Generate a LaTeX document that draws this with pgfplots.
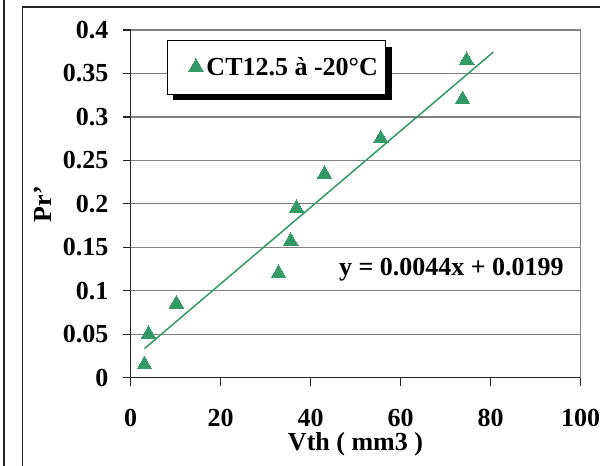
\documentclass[border=0pt]{standalone}
\usepackage{fontspec}
\setmainfont{Liberation Serif}
\usepackage{pgfplots}
\pgfplotsset{compat=1.18}
\usetikzlibrary{shadows}
\definecolor{seagreen}{RGB}{51,153,102}
\definecolor{gridgray}{RGB}{128,128,128}
\newcommand{\bigbf}{\bfseries\fontsize{26bp}{31bp}\selectfont}
\begin{document}
\begin{tikzpicture}[x=1bp,y=1bp]
\useasboundingbox (0,0) rectangle (600,466);
\draw[black!85, line width=1.4bp] (4,0) -- (4,466);
\draw[black!85, line width=1.6bp] (22.5,0) -- (22.5,459) -- (600,459);
\begin{axis}[
  at={(130.5bp,88.3bp)}, anchor=south west,
  scale only axis, width=450bp, height=347.7bp,
  xmin=0, xmax=100, ymin=0, ymax=0.4,
  xtick={0,20,40,60,80,100},
  ytick={0,0.05,0.1,0.15,0.2,0.25,0.3,0.35,0.4},
  axis lines=left,
  axis line style={-, black!85, line width=1.4bp},
  tick align=outside,
  major tick length=8bp,
  tick style={black!85, line width=1.2bp},
  ymajorgrids,
  major grid style={gridgray, line width=1.2bp},
  /pgf/number format/assume math mode=true,
  /pgf/number format/fixed,
  /pgf/number format/precision=2,
  tick label style={font=\bigbf},
  xticklabel style={anchor=north, inner sep=0pt, yshift=-23bp},
  yticklabel style={anchor=east, inner sep=0pt, xshift=-14bp},
  xlabel={Vth ( mm3 )},
  ylabel={Pr'},
  label style={font=\bigbf},
  xlabel style={at={(axis description cs:0.5,0)}, anchor=base, inner sep=0pt, yshift=-73bp},
  ylabel style={at={(axis description cs:0,0.5)}, anchor=center, yshift=88bp},
  legend image code/.code={\path (0bp,0bp) (30bp,0bp); \draw[#1] plot coordinates {(22bp,0bp)};},
  legend style={at={(axis description cs:0.0811,0.9712)}, anchor=north west,
    draw=black, line width=1bp, fill=white, font=\bigbf,
    inner xsep=6bp, inner ysep=15bp,
    drop shadow={shadow xshift=6bp, shadow yshift=-6bp, fill=black, opacity=1}},
  clip=false,
]
\addplot[only marks, mark=triangle*, mark size=8.5bp, color=seagreen, mark options={draw=seagreen, fill=seagreen, line width=0pt}]
  coordinates {
  (3.1,0.015) (4.0,0.050) (10.2,0.085) (32.9,0.120) (35.6,0.157)
  (36.9,0.195) (43.1,0.234) (55.6,0.275) (73.8,0.320) (74.7,0.365)
  };
\addlegendentry{CT12.5 à -20°C}
\addplot[forget plot, seagreen, line width=1.5bp, no marks]
  coordinates {(3.1,0.0335) (80.6,0.3745)};
\draw[gridgray, line width=1.4bp] (rel axis cs:1,0) -- (rel axis cs:1,1);
\node[font=\bigbf, anchor=center] at (axis cs:71.3,0.124) {y = 0.0044x + 0.0199};
\end{axis}
\end{tikzpicture}
\end{document}
